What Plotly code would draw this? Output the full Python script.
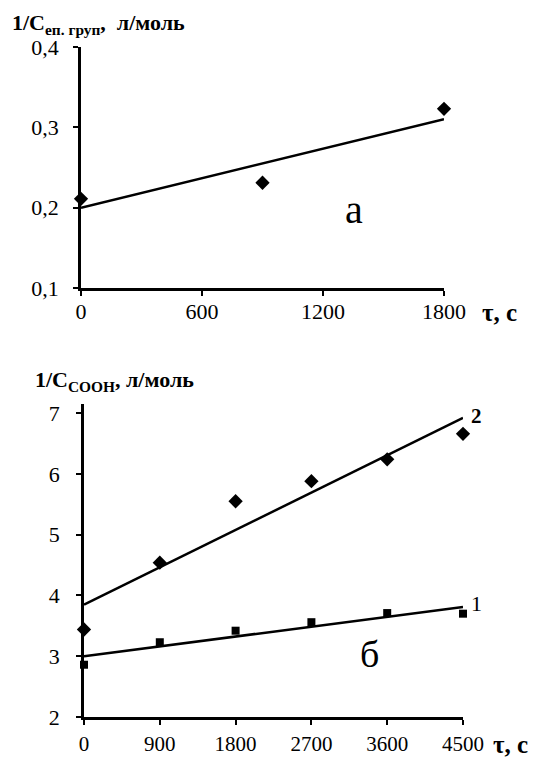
import plotly.graph_objects as go

# ---- data: panel a ----
t_a = [0, 900, 1800]
inv_c_a = [0.211, 0.231, 0.323]
fit_a_x = [0, 1800]
fit_a_y = [0.200, 0.310]
xticks_a = [0, 600, 1200, 1800]
xticklabels_a = ["0", "600", "1200", "1800"]
yticks_a = [0.1, 0.2, 0.3, 0.4]
yticklabels_a = ["0,1", "0,2", "0,3", "0,4"]

# ---- data: panel б ----
t_b = [0, 900, 1800, 2700, 3600, 4500]
inv_c_2 = [3.44, 4.54, 5.55, 5.88, 6.24, 6.66]
inv_c_1 = [2.86, 3.23, 3.42, 3.56, 3.71, 3.70]
fit_2_x = [0, 4500]
fit_2_y = [3.85, 6.92]
fit_1_x = [0, 4500]
fit_1_y = [3.00, 3.81]
xticks_b = [0, 900, 1800, 2700, 3600, 4500]
xticklabels_b = ["0", "900", "1800", "2700", "3600", "4500"]
yticks_b = [2, 3, 4, 5, 6, 7]
yticklabels_b = ["2", "3", "4", "5", "6", "7"]

W, H = 540, 757
SERIF = "Liberation Serif"
BLACK = "#000000"

fig = go.Figure()

# panel a
fig.add_trace(go.Scatter(x=fit_a_x, y=fit_a_y, mode="lines",
                         line=dict(color=BLACK, width=2.5), xaxis="x", yaxis="y",
                         showlegend=False, cliponaxis=False))
fig.add_trace(go.Scatter(x=t_a, y=inv_c_a, mode="markers",
                         marker=dict(symbol="diamond", size=11, color=BLACK),
                         xaxis="x", yaxis="y", showlegend=False, cliponaxis=False))

# panel б
fig.add_trace(go.Scatter(x=fit_2_x, y=fit_2_y, mode="lines",
                         line=dict(color=BLACK, width=2.5), xaxis="x2", yaxis="y2",
                         showlegend=False, cliponaxis=False))
fig.add_trace(go.Scatter(x=fit_1_x, y=fit_1_y, mode="lines",
                         line=dict(color=BLACK, width=2.5), xaxis="x2", yaxis="y2",
                         showlegend=False, cliponaxis=False))
fig.add_trace(go.Scatter(x=t_b, y=inv_c_2, mode="markers",
                         marker=dict(symbol="diamond", size=11, color=BLACK),
                         xaxis="x2", yaxis="y2", showlegend=False, cliponaxis=False))
fig.add_trace(go.Scatter(x=t_b, y=inv_c_1, mode="markers",
                         marker=dict(symbol="square", size=8, color=BLACK),
                         xaxis="x2", yaxis="y2", showlegend=False, cliponaxis=False))


def axis_style(size=22, **kw):
    d = dict(showgrid=False, zeroline=False, showline=True, linecolor=BLACK,
             linewidth=2.5, ticks="outside", ticklen=5, tickwidth=2,
             tickcolor=BLACK, tickfont=dict(family=SERIF, size=size, color=BLACK),
             tickmode="array", automargin=False)
    d.update(kw)
    return d


fig.update_layout(
    width=W, height=H,
    margin=dict(l=0, r=0, t=0, b=0, autoexpand=False),
    paper_bgcolor="white", plot_bgcolor="white",
    font=dict(family=SERIF, size=22, color=BLACK),
    xaxis=axis_style(domain=[81 / W, 444 / W], range=[0, 1800],
                     tickvals=xticks_a, ticktext=xticklabels_a, anchor="y",
                     ticklabelstandoff=-3),
    yaxis=axis_style(domain=[1 - 288 / H, 1 - 47 / H], range=[0.1, 0.4],
                     tickvals=yticks_a, ticktext=yticklabels_a, anchor="x",
                     ticklabelstandoff=10),
    xaxis2=axis_style(size=21, domain=[84 / W, 463 / W], range=[0, 4500],
                      tickvals=xticks_b, ticktext=xticklabels_b, anchor="y2",
                      ticklabelstandoff=1),
    yaxis2=axis_style(domain=[1 - 717 / H, 1 - 404 / H], range=[2, 7.15],
                      tickvals=yticks_b, ticktext=yticklabels_b, anchor="x2",
                      ticklabelstandoff=12),
)


def ann(text, x, y, size, bold=False, xanchor="left"):
    fig.add_annotation(
        text=("<b>%s</b>" % text) if bold else text,
        x=x / W, y=1 - y / H, xref="paper", yref="paper",
        xanchor=xanchor, yanchor="middle", showarrow=False,
        font=dict(family=SERIF, size=size, color=BLACK))


ann("1/C<sub>еп. груп</sub>,  л/моль", 10, 24, 22, bold=True)
ann("1/C<sub>COOH</sub>, л/моль", 33, 381, 22, bold=True)
ann("τ, с", 480, 312, 25, bold=True)
ann("τ, с", 491, 744, 25, bold=True)
ann("а", 354, 210, 40, xanchor="center")
ann("б", 369, 654, 38, xanchor="center")
ann("2", 476, 416, 21, bold=True, xanchor="center")
ann("1", 476, 603, 22, xanchor="center")

fig.write_html("out.html")
